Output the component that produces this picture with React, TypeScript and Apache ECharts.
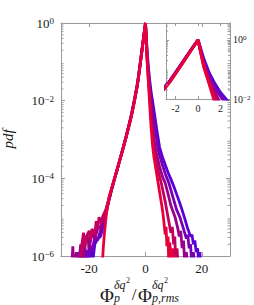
import React, { useEffect, useRef } from "react";
import * as echarts from "echarts";

// ---------- data (x, log10 pdf) ----------
const seriesNames = ["s1", "s2", "s3", "s4", "s5"];
const seriesColors = ["#e8003a", "#c4005e", "#9a0088", "#7800b4", "#5a00d8"];

const pdfRed: number[][] = [
  [-15.4, -6.3], [-15, -5.8], [-14.5, -5.35], [-14, -5.0], [-13.5, -4.72], [-13, -4.5],
  [-12, -4.25], [-11, -4.0], [-10, -3.75], [-9, -3.5], [-8, -3.25], [-7, -2.98], [-6, -2.7],
  [-5, -2.4], [-4, -2.05], [-3, -1.66], [-2.5, -1.42], [-2, -1.14], [-1.5, -0.86], [-1, -0.57],
  [-0.5, -0.28], [0, 0], [0.5, -0.9], [1, -1.5], [1.4, -2.0], [2, -2.7], [2.5, -3.15], [3, -3.45],
  [4, -3.9], [5, -4.35], [6, -4.8], [6.5, -5.1], [7, -5.45], [7.3, -5.25], [7.6, -5.75], [8, -5.5],
  [8.3, -6.3], [8.6, -5.65], [9, -5.95], [9.3, -6.3], [9.6, -5.8], [9.8, -6.3],
];

const pdfCrimson: number[][] = [
  [-23.2, -6.3], [-22.6, -5.7], [-22, -5.4], [-21.5, -5.8], [-21, -5.5], [-20, -5.35], [-19.5, -5.6],
  [-19, -5.3], [-18, -5.45], [-17.5, -5.1], [-17, -5.3], [-16.5, -5.0], [-16, -5.15], [-15, -4.95],
  [-14, -4.8], [-13, -4.52], [-12, -4.26], [-11, -4.0], [-10, -3.75], [-9, -3.5], [-8, -3.24],
  [-7, -2.97], [-6, -2.69], [-5, -2.39], [-4, -2.04], [-3, -1.65], [-2.5, -1.41], [-2, -1.13],
  [-1.5, -0.85], [-1, -0.56], [-0.5, -0.28], [0, 0], [0.5, -0.85], [1, -1.42], [1.6, -2.0],
  [2, -2.45], [2.5, -2.85], [3, -3.27], [4, -3.65], [5, -3.95], [5.6, -4.12], [7, -4.6], [8, -5.0],
  [9, -5.4], [9.5, -5.25], [10, -5.7], [10.4, -5.5], [10.8, -6.3], [11.2, -5.8], [11.6, -6.3],
];

const pdfPurple: number[][] = [
  [-26.2, -6.3], [-25.8, -5.75], [-25.4, -6.3], [-24.5, -5.9], [-23.8, -6.3], [-23, -5.7],
  [-22.3, -6.3], [-21.5, -5.6], [-20.5, -5.5], [-20, -5.8], [-19, -5.4], [-18, -5.55], [-17, -5.3],
  [-16, -5.25], [-15, -5.05], [-14, -4.8], [-13, -4.55], [-12, -4.27], [-11, -4.01], [-10, -3.76],
  [-9, -3.5], [-8, -3.24], [-7, -2.97], [-6, -2.68], [-5, -2.38], [-4, -2.03], [-3, -1.64],
  [-2.5, -1.4], [-2, -1.12], [-1.5, -0.84], [-1, -0.56], [-0.5, -0.27], [0, 0], [0.5, -0.78],
  [1, -1.33], [1.8, -2.0], [2.5, -2.6], [3, -2.95], [3.6, -3.27], [5, -3.7], [6, -3.95], [7, -4.12],
  [8, -4.4], [9, -4.7], [10.5, -5.0], [11.5, -5.3], [12, -5.5], [12.5, -5.35], [13, -5.8],
  [13.5, -5.6], [14, -6.3], [14.5, -5.9], [15, -6.3],
];

const pdfViolet: number[][] = [
  [-24, -6.3], [-23.5, -5.9], [-22.5, -6.3], [-21.5, -5.8], [-20.5, -6.3], [-20, -5.65], [-19, -5.9],
  [-18, -5.5], [-17, -5.6], [-16, -5.35], [-15, -5.15], [-14, -4.85], [-13, -4.56], [-12, -4.28],
  [-11, -4.02], [-10, -3.76], [-9, -3.5], [-8, -3.23], [-7, -2.96], [-6, -2.67], [-5, -2.37],
  [-4, -2.01], [-3, -1.62], [-2.5, -1.39], [-2, -1.11], [-1.5, -0.83], [-1, -0.55], [-0.5, -0.27],
  [0, 0], [0.5, -0.7], [1, -1.25], [1.5, -1.63], [2.2, -2.0], [3, -2.5], [4, -3.0], [4.5, -3.27],
  [5, -3.4], [6, -3.65], [7, -3.88], [8.3, -4.12], [10, -4.55], [11, -4.8], [12.2, -5.0],
  [13.5, -5.3], [14.5, -5.55], [15, -5.45], [15.5, -5.8], [16, -5.7], [16.5, -6.3], [17, -5.9],
  [17.5, -6.3],
];

const pdfBlue: number[][] = [
  [-21.5, -6.3], [-21, -5.85], [-20.2, -6.3], [-19.5, -5.75], [-19, -6.3], [-18, -5.7], [-17, -5.55],
  [-16, -5.5], [-15, -5.25], [-14, -4.9], [-13, -4.58], [-12, -4.29], [-11, -4.02], [-10, -3.76],
  [-9, -3.49], [-8, -3.22], [-7, -2.95], [-6, -2.66], [-5, -2.35], [-4, -1.99], [-3, -1.6],
  [-2.5, -1.37], [-2, -1.1], [-1.5, -0.82], [-1, -0.54], [-0.5, -0.27], [0, 0], [0.5, -0.62],
  [1, -1.12], [1.5, -1.48], [2, -1.78], [2.6, -2.05], [3, -2.25], [4, -2.75], [5, -3.2], [6, -3.45],
  [7, -3.65], [8, -3.85], [9, -4.02], [10, -4.2], [11, -4.4], [12, -4.6], [13, -4.82], [14, -5.05],
  [15, -5.3], [16, -5.5], [16.5, -5.45], [17, -5.7], [17.5, -5.6], [18, -5.9], [18.5, -5.8],
  [19, -6.3], [19.3, -5.9], [19.6, -6.3],
];

const allSeries = [pdfRed, pdfCrimson, pdfPurple, pdfViolet, pdfBlue];

// tick labels / positions (x in units, y in log10)
const mainXTicks = [-20, 0, 20];
const mainYTicks = [-6, -4, -2, 0];
const insetXTicks = [-2, 0, 2];
const insetYTicks = [-2, 0];

const SERIF = '"Liberation Serif", "DejaVu Serif", serif';
const AXIS_GRAY = "#9a9a9a";
const TEXT = "#1a1a1a";

function minorValues(lo: number, hi: number): number[] {
  const out: number[] = [];
  for (let d = Math.floor(lo); d < hi; d++) {
    for (let k = 2; k <= 9; k++) {
      const v = d + Math.log10(k);
      if (v > lo && v < hi) out.push(v);
    }
  }
  return out;
}

function powLabel(v: number) {
  const e = Math.round(v);
  return "{b|10}{s|" + (e < 0 ? "\u2212" + -e : String(e)) + "}";
}

export default function App() {
  const ref = useRef<HTMLDivElement>(null);
  useEffect(() => {
    document.body.style.margin = "0";
    if (!ref.current) return;
    const chart = echarts.init(ref.current, undefined, { renderer: "svg" });

    const richMain = {
      b: { fontSize: 13, fontFamily: SERIF, color: TEXT, lineHeight: 13, verticalAlign: "middle" },
      s: { fontSize: 9, fontFamily: SERIF, color: TEXT, lineHeight: 9, padding: [0, 0, 8, 0], verticalAlign: "top" },
    };
    const richInset = {
      b: { fontSize: 10, fontFamily: SERIF, color: TEXT, lineHeight: 10, verticalAlign: "middle" },
      s: { fontSize: 7, fontFamily: SERIF, color: TEXT, lineHeight: 7, padding: [0, 0, 6, 0], verticalAlign: "top" },
    };
    const line = { show: true, onZero: false, lineStyle: { color: AXIS_GRAY, width: 1 } };
    const tick = (vals: number[], len: number) => ({
      show: true, inside: true, length: len, customValues: vals, lineStyle: { color: AXIS_GRAY, width: 1 },
    });

    const minorSeries = (vals: number[], xi: number, yi: number, xref: number, len: number) => ({
      type: "custom",
      xAxisIndex: xi,
      yAxisIndex: yi,
      silent: true,
      z: 6,
      data: vals.map((v) => [xref, v]),
      renderItem: (params: any, api: any) => {
        const cs = params.coordSys;
        const y = api.coord([api.value(0), api.value(1)])[1];
        const st = { stroke: AXIS_GRAY, lineWidth: 1 };
        return {
          type: "group",
          children: [
            { type: "line", shape: { x1: cs.x, y1: y, x2: cs.x + len, y2: y }, style: st },
            { type: "line", shape: { x1: cs.x + cs.width - len, y1: y, x2: cs.x + cs.width, y2: y }, style: st },
          ],
        };
      },
    });

    const lineSeries = (data: number[][], i: number, xi: number, yi: number, z: number, w: number) => ({
      type: "line",
      name: seriesNames[i],
      data,
      xAxisIndex: xi,
      yAxisIndex: yi,
      symbol: "none",
      showSymbol: false,
      clip: true,
      silent: true,
      z,
      lineStyle: { color: seriesColors[i], width: w },
      itemStyle: { color: seriesColors[i] },
    });

    const order = [4, 3, 2, 1, 0];
    const series: any[] = [];
    order.forEach((i) => series.push(lineSeries(allSeries[i], i, 0, 0, 3, 2.8)));
    order.forEach((i) => series.push(lineSeries(allSeries[i], i, 2, 2, 5, 3)));
    series.push(minorSeries(minorValues(-6, 0), 0, 0, 0, 2.5));
    series.push(minorSeries(minorValues(-2, 0.576), 2, 2, 0, 2));

    chart.setOption({
      animation: false,
      grid: [
        { left: 61, top: 23, width: 169, height: 233, containLabel: false },
        { left: 166, top: 23, width: 64, height: 76, show: true, backgroundColor: "#ffffff", borderWidth: 0 },
      ],
      xAxis: [
        {
          type: "value", gridIndex: 0, position: "bottom", min: -30, max: 30,
          axisLine: line, axisTick: tick(mainXTicks, 4), splitLine: { show: false },
          axisLabel: { customValues: mainXTicks, margin: 6, fontSize: 13, fontFamily: SERIF, color: TEXT },
        },
        {
          type: "value", gridIndex: 0, position: "top", min: -30, max: 30,
          axisLine: line, axisTick: tick(mainXTicks, 4), splitLine: { show: false }, axisLabel: { show: false },
        },
        {
          type: "value", gridIndex: 1, position: "bottom", min: -2.85, max: 2.85,
          axisLine: line, axisTick: tick(insetXTicks, 3), splitLine: { show: false },
          axisLabel: { customValues: insetXTicks, margin: 4, fontSize: 10, fontFamily: SERIF, color: TEXT },
        },
        {
          type: "value", gridIndex: 1, position: "top", min: -2.85, max: 2.85,
          axisLine: line, axisTick: tick(insetXTicks, 3), splitLine: { show: false }, axisLabel: { show: false },
        },
      ],
      yAxis: [
        {
          type: "value", gridIndex: 0, position: "left", min: -6, max: 0, interval: 2,
          axisLine: line, axisTick: tick(mainYTicks, 4), splitLine: { show: false },
          axisLabel: { customValues: mainYTicks, margin: 7, formatter: powLabel, rich: richMain },
        },
        {
          type: "value", gridIndex: 0, position: "right", min: -6, max: 0, interval: 2,
          axisLine: line, axisTick: tick(mainYTicks, 4), splitLine: { show: false }, axisLabel: { show: false },
        },
        {
          type: "value", gridIndex: 1, position: "left", min: -2, max: 0.576,
          axisLine: line, axisTick: tick(insetYTicks, 3), splitLine: { show: false }, axisLabel: { show: false },
        },
        {
          type: "value", gridIndex: 1, position: "right", min: -2, max: 0.576,
          axisLine: line, axisTick: tick(insetYTicks, 3), splitLine: { show: false },
          axisLabel: { customValues: insetYTicks, margin: 3, formatter: powLabel, rich: richInset },
        },
      ],
      graphic: [
        {
          type: "text", x: 8, y: 139, rotation: Math.PI / 2,
          style: { text: "pdf", font: "italic 15px " + SERIF, fill: TEXT, align: "center", verticalAlign: "middle" },
        },
        { type: "text", x: 107, y: 295, style: { text: "\u03A6", font: "19px " + SERIF, fill: TEXT, align: "center", verticalAlign: "middle" } },
        { type: "text", x: 114, y: 285, style: { text: "\u03B4q", font: "italic 12px " + SERIF, fill: TEXT, align: "left", verticalAlign: "middle" } },
        { type: "text", x: 126, y: 280, style: { text: "2", font: "8px " + SERIF, fill: TEXT, align: "left", verticalAlign: "middle" } },
        { type: "text", x: 114, y: 297.5, style: { text: "p", font: "italic 12px " + SERIF, fill: TEXT, align: "left", verticalAlign: "middle" } },
        { type: "text", x: 134, y: 294, style: { text: "/", font: "17px " + SERIF, fill: TEXT, align: "center", verticalAlign: "middle" } },
        { type: "text", x: 145, y: 295, style: { text: "\u03A6", font: "19px " + SERIF, fill: TEXT, align: "center", verticalAlign: "middle" } },
        { type: "text", x: 152, y: 285, style: { text: "\u03B4q", font: "italic 12px " + SERIF, fill: TEXT, align: "left", verticalAlign: "middle" } },
        { type: "text", x: 164, y: 280, style: { text: "2", font: "8px " + SERIF, fill: TEXT, align: "left", verticalAlign: "middle" } },
        { type: "text", x: 152, y: 297.5, style: { text: "p,rms", font: "italic 12px " + SERIF, fill: TEXT, align: "left", verticalAlign: "middle" } },
      ],
      series,
    });
    return () => chart.dispose();
  }, []);
  return <div ref={ref} style={{ width: 254, height: 305 }} />;
}
